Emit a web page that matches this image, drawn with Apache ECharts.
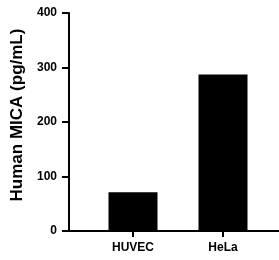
<!DOCTYPE html>
<html>
<head>
<meta charset="utf-8">
<script src="https://cdn.jsdelivr.net/npm/echarts@6/dist/echarts.min.js"></script>
<style>
  html, body { margin: 0; padding: 0; background: #fff; }
  #chart { width: 279px; height: 260px; }
</style>
</head>
<body>
<div id="chart"></div>
<script>
// data
const categories = ['HUVEC', 'HeLa'];
const values = [71, 287];
const yTicks = [0, 100, 200, 300, 400];

const font = 'Arial, "Liberation Sans", sans-serif';
const chart = echarts.init(document.getElementById('chart'));

const option = {
  animation: false,
  grid: [
    // outer frame: y axis + full-width baseline
    { left: 69, right: 0, top: 13, bottom: 29 },
    // inner area where the two bars sit
    { left: 88, right: 11, top: 13, bottom: 29 }
  ],
  xAxis: [
    {
      gridIndex: 0, type: 'value', min: 0, max: 1,
      axisLine: { show: true, onZero: false, lineStyle: { color: '#000', width: 2 } },
      axisTick: { show: false }, axisLabel: { show: false }, splitLine: { show: false }
    },
    {
      gridIndex: 1, type: 'category', data: categories,
      axisLine: { show: false },
      axisTick: { show: true, alignWithLabel: true, length: 6, lineStyle: { color: '#000', width: 2 } },
      axisLabel: { color: '#000', fontFamily: font, fontWeight: 'bold', fontSize: 12, margin: 11 }
    }
  ],
  yAxis: [
    {
      gridIndex: 0, type: 'value',
      min: yTicks[0], max: yTicks[yTicks.length - 1], interval: 100,
      name: 'Human MICA (pg/mL)', nameLocation: 'middle', nameGap: 36,
      nameTextStyle: { color: '#000', fontFamily: font, fontWeight: 'bold', fontSize: 17, padding: [0, 0, 0, 14] },
      axisLine: { show: true, lineStyle: { color: '#000', width: 2 } },
      axisTick: { show: true, length: 7, lineStyle: { color: '#000', width: 2 } },
      axisLabel: { color: '#000', fontFamily: font, fontWeight: 'bold', fontSize: 12, margin: 12 },
      splitLine: { show: false }
    },
    {
      gridIndex: 1, type: 'value',
      min: yTicks[0], max: yTicks[yTicks.length - 1], interval: 100,
      show: false
    }
  ],
  series: [
    {
      type: 'bar', xAxisIndex: 1, yAxisIndex: 1,
      data: values, barWidth: 49,
      itemStyle: { color: '#000' }
    }
  ]
};

chart.setOption(option);
</script>
</body>
</html>
